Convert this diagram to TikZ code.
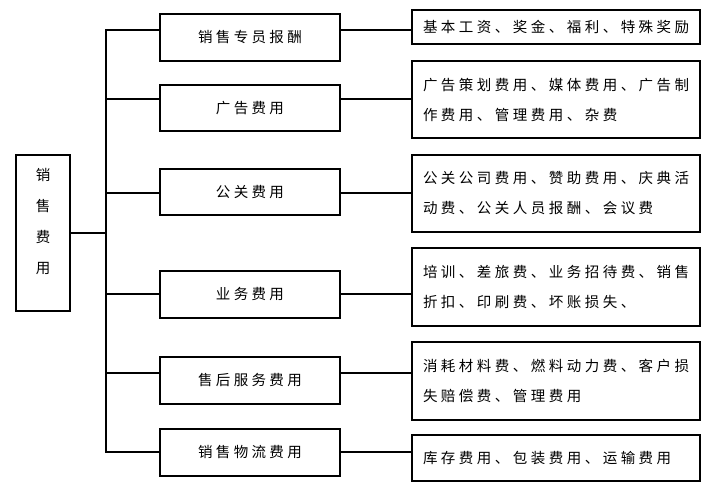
\documentclass[tikz,border=0pt]{standalone}
\usepackage{fontspec}
\setmainfont{Noto Sans CJK SC}
\usetikzlibrary{calc}
\usetikzlibrary{positioning}

\tikzset{
  rootbox/.style={draw,line width=1.6pt,minimum width=54pt,minimum height=156pt,inner sep=0pt},
  roottext/.style={align=center,inner sep=0pt,font=\fontsize{14.5}{31}\selectfont},
  midbox/.style={draw,line width=1.6pt,minimum width=180pt,inner sep=0pt,
    font=\fontsize{14.5}{16}\selectfont\addfontfeatures{LetterSpace=23}},
  itembox/.style={draw,line width=1.6pt,minimum width=288pt,text width=266pt,inner xsep=11pt,inner ysep=0pt,align=left,
    font=\fontsize{14.5}{30}\selectfont\addfontfeatures{LetterSpace=24}},
  link/.style={line width=1.6pt,line join=miter}
}

\begin{document}
\begin{tikzpicture}[x=1pt,y=-1pt]
	\useasboundingbox (0,0) rectangle (715,494);
	%root
	\node[rootbox,label={[roottext,yshift=11pt]center:销\\售\\费\\用}] (root) at (43,233) {};
	%middle column
	\node[midbox,minimum height=47pt] (m1) at (250,37.5) {销售专员报酬};
	\node[midbox,minimum height=46pt] (m2) at (250,108) {广告费用};
	\node[midbox,minimum height=46pt] (m3) at (250,192) {公关费用};
	\node[midbox,minimum height=47pt] (m4) at (250,294.5) {业务费用};
	\node[midbox,minimum height=47pt] (m5) at (250,380.5) {售后服务费用};
	\node[midbox,minimum height=47pt] (m6) at (250,452.5) {销售物流费用};
	%right column
	\node[itembox,minimum height=34pt] (r1) at (556,27) {基本工资、奖金、福利、特殊奖励};
	\node[itembox,minimum height=77pt] (r2) at (556,99.5) {广告策划费用、媒体费用、广告制\\作费用、管理费用、杂费};
	\node[itembox,minimum height=77pt] (r3) at (556,193.5) {公关公司费用、赞助费用、庆典活\\动费、公关人员报酬、会议费};
	\node[itembox,minimum height=78pt] (r4) at (556,287) {培训、差旅费、业务招待费、销售\\折扣、印刷费、坏账损失、};
	\node[itembox,minimum height=78pt] (r5) at (556,381) {消耗材料费、燃料动力费、客户损\\失赔偿费、管理费用};
	\node[itembox,minimum height=46pt] (r6) at (556,458) {库存费用、包装费用、运输费用};
	%trunk points
	\coordinate (t1) at (106,30);
	\coordinate (t2) at (106,99);
	\coordinate (t3) at (106,193);
	\coordinate (t4) at (106,294);
	\coordinate (t5) at (106,373);
	\coordinate (t6) at (106,452);
	%connectors
	\draw[link] (t1 -| m1.west) -- (t1) -- (t6) -- (t6 -| m6.west);
	\draw[link] (root.east) -- (root.east -| t1);
	\draw[link] (t2) -- (t2 -| m2.west);
	\draw[link] (t3) -- (t3 -| m3.west);
	\draw[link] (t4) -- (t4 -| m4.west);
	\draw[link] (t5) -- (t5 -| m5.west);
	\draw[link] (m1.east |- t1) -- (t1 -| r1.west);
	\draw[link] (m2.east |- t2) -- (t2 -| r2.west);
	\draw[link] (m3.east |- t3) -- (t3 -| r3.west);
	\draw[link] (m4.east |- t4) -- (t4 -| r4.west);
	\draw[link] (m5.east |- t5) -- (t5 -| r5.west);
	\draw[link] (m6.east |- t6) -- (t6 -| r6.west);
\end{tikzpicture}
\end{document}
